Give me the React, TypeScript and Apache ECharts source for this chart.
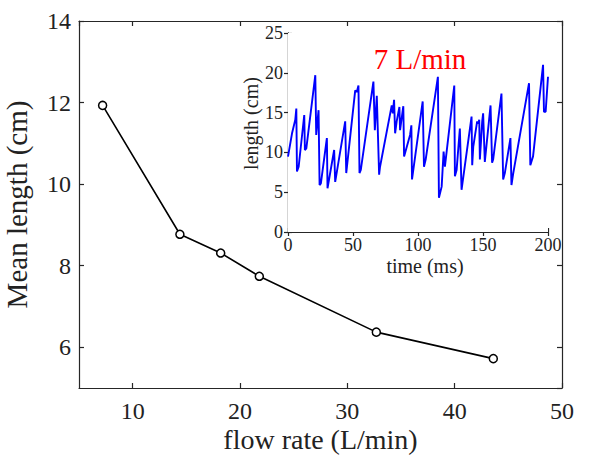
import React, { useEffect, useRef } from "react";
import * as echarts from "echarts";

const flowRate = [7.2, 14.4, 18.2, 21.8, 32.7, 43.6];
const meanLength = [11.93, 8.77, 8.31, 7.74, 6.37, 5.72];

const timeMs = [
  0, 3.1, 5.6, 6.4, 6.9, 8.2, 12.5, 13.0, 14.1, 21.0, 21.7, 22.8, 23.5, 24.3, 25.3, 29.9, 30.4,
  35.5, 36.3, 44.0, 44.8, 51.7, 52.9, 54.2, 55.0, 56.0, 65.7, 66.8, 68.3, 70.1, 70.8, 79.8, 80.6,
  81.6, 82.4, 83.6, 85.7, 86.2, 88.7, 89.3, 93.9, 94.9, 95.4, 103.6, 104.6, 105.9, 115.3, 116.1,
  118.2, 119.7, 120.7, 127.9, 128.4, 129.7, 132.2, 133.5, 141.2, 141.7, 142.5, 145.5, 146.3, 147.1,
  147.6, 149.4, 150.1, 151.4, 155.8, 157.0, 157.8, 164.2, 165.5, 166.8, 171.1, 171.9, 173.1, 185.4,
  186.4, 188.5, 196.2, 196.9, 198.2, 200,
];
const lengthCm = [
  9.47, 12.4, 14.1, 15.5, 7.6, 8.2, 14.7, 10.3, 10.5, 19.7, 12.2, 14.1, 15.3, 5.9, 6.1, 11.8, 5.5,
  10.3, 6.3, 13.9, 7.4, 17.8, 17.6, 18.4, 7.4, 7.8, 18.9, 12.8, 17.1, 7.2, 8.2, 15.9, 14.9,
  16.6, 12.4, 13.9, 15.7, 12.8, 15.8, 9.5, 12.2, 13.4, 6.6, 16.4, 8.2, 9.1, 19.5, 4.3,
  5.7, 10.1, 8.2, 18.4, 7.0, 7.8, 13.0, 5.3, 14.5, 8.4, 10.7, 13.9, 13.6, 14.1,
  9.1, 13.9, 14.9, 8.8, 15.9, 8.7, 9.1, 17.4, 6.6, 7.4, 11.8, 5.9, 7.2, 18.7,
  8.4, 9.5, 21.0, 15.1, 15.1, 19.5,
];

const mainXTicks = [10, 20, 30, 40, 50];
const mainYTicks = [6, 8, 10, 12, 14];
const insetXTicks = [0, 50, 100, 150, 200];
const insetYTicks = [0, 5, 10, 15, 20, 25];

const FONT = '"Liberation Serif", "Times New Roman", serif';
const AX = "#262626";
const TXT = "#222";

export default function App() {
  const ref = useRef<HTMLDivElement>(null);
  useEffect(() => {
    document.body.style.margin = "0";
    if (!ref.current) return;
    const chart = echarts.init(ref.current, null, { renderer: "svg" });

    const mainLine = { lineStyle: { color: AX, width: 1.2 } };
    const tickIn = (len: number) => ({ show: true, inside: true, length: len, lineStyle: { color: AX, width: 1.2 } });

    const option: any = {
      animation: false,
      backgroundColor: "#fff",
      textStyle: { fontFamily: FONT },
      grid: [
        { left: 79, right: 41, top: 21, bottom: 71, show: false, outerBoundsMode: "none", containLabel: false },
        { left: 288, right: 55, top: 33, bottom: 227, show: true, backgroundColor: "#fff", borderWidth: 0, z: 3, outerBoundsMode: "none", containLabel: false },
      ],
      xAxis: [
        {
          gridIndex: 0, type: "value", min: 5, max: 50, position: "bottom",
          name: "flow rate (L/min)", nameLocation: "middle", nameGap: 37, nameMoveOverlap: false,
          nameTextStyle: { fontFamily: FONT, fontSize: 28, color: TXT },
          axisLine: { show: true, ...mainLine }, axisTick: tickIn(5),
          axisLabel: { show: true, showMinLabel: false, fontFamily: FONT, fontSize: 24, color: TXT, margin: 11,
            formatter: (v: number) => (mainXTicks.includes(v) ? String(v) : "") },
          splitLine: { show: false },
        },
        {
          gridIndex: 0, type: "value", min: 5, max: 50, position: "top",
          axisLine: { show: true, ...mainLine }, axisTick: tickIn(5), axisLabel: { show: false }, splitLine: { show: false },
        },
        {
          gridIndex: 1, type: "value", min: 0, max: 200, interval: 50, position: "bottom",
          name: "time (ms)", nameLocation: "middle", nameGap: 24, nameMoveOverlap: false,
          nameTextStyle: { fontFamily: FONT, fontSize: 20, color: TXT, padding: [0, 0, 0, 14] },
          axisLine: { show: true, ...mainLine }, axisTick: tickIn(4),
          axisLabel: { fontFamily: FONT, fontSize: 18, color: TXT, margin: 4,
            formatter: (v: number) => (insetXTicks.includes(v) ? String(v) : "") },
          splitLine: { show: false },
        },
        {
          gridIndex: 1, type: "value", min: 0, max: 200, interval: 50, position: "top",
          axisLine: { show: true, ...mainLine }, axisTick: tickIn(4), axisLabel: { show: false }, splitLine: { show: false },
        },
      ],
      yAxis: [
        {
          gridIndex: 0, type: "value", min: 5, max: 14, position: "left",
          name: "Mean length (cm)", nameLocation: "middle", nameGap: 48, nameMoveOverlap: false,
          nameTextStyle: { fontFamily: FONT, fontSize: 29, color: TXT },
          axisLine: { show: true, ...mainLine }, axisTick: tickIn(5),
          axisLabel: { showMinLabel: false, fontFamily: FONT, fontSize: 24, color: TXT, margin: 8,
            formatter: (v: number) => (mainYTicks.includes(v) ? String(v) : "") },
          splitLine: { show: false },
        },
        {
          gridIndex: 0, type: "value", min: 5, max: 14, position: "right",
          axisLine: { show: true, ...mainLine }, axisTick: tickIn(5), axisLabel: { show: false }, splitLine: { show: false },
        },
        {
          gridIndex: 1, type: "value", min: 0, max: 25, interval: 5, position: "left",
          name: "length (cm)", nameLocation: "middle", nameGap: 27, nameMoveOverlap: false,
          nameTextStyle: { fontFamily: FONT, fontSize: 20, color: TXT, padding: [0, 0, 0, 18] },
          axisLine: { show: true, ...mainLine }, axisTick: tickIn(4),
          axisLabel: { fontFamily: FONT, fontSize: 18, color: TXT, margin: 5,
            formatter: (v: number) => (insetYTicks.includes(v) ? String(v) : "") },
          splitLine: { show: false },
        },
        {
          gridIndex: 1, type: "value", min: 0, max: 25, interval: 5, position: "right",
          axisLine: { show: true, ...mainLine }, axisTick: tickIn(4), axisLabel: { show: false }, splitLine: { show: false },
        },
      ],
      series: [
        {
          type: "line", xAxisIndex: 0, yAxisIndex: 0,
          data: flowRate.map((x, i) => [x, meanLength[i]]),
          lineStyle: { color: "#000", width: 1.6 },
          symbol: "circle", symbolSize: 8,
          itemStyle: { color: "#fff", borderColor: "#000", borderWidth: 1.5 },
          z: 2,
        },
        {
          type: "line", xAxisIndex: 2, yAxisIndex: 2,
          data: timeMs.map((t, i) => [t, lengthCm[i]]),
          lineStyle: { color: "#0000ff", width: 1.9 },
          showSymbol: false, symbol: "none",
          z: 5,
        },
      ],
      graphic: [
        {
          type: "text", x: 420, y: 59, z: 10,
          style: { text: "7 L/min", fill: "#ff0000", font: '29px "Liberation Serif"', textAlign: "center", textVerticalAlign: "middle" },
        },
      ],
    };
    chart.setOption(option);
    return () => chart.dispose();
  }, []);
  return <div ref={ref} style={{ width: 603, height: 459 }} />;
}
